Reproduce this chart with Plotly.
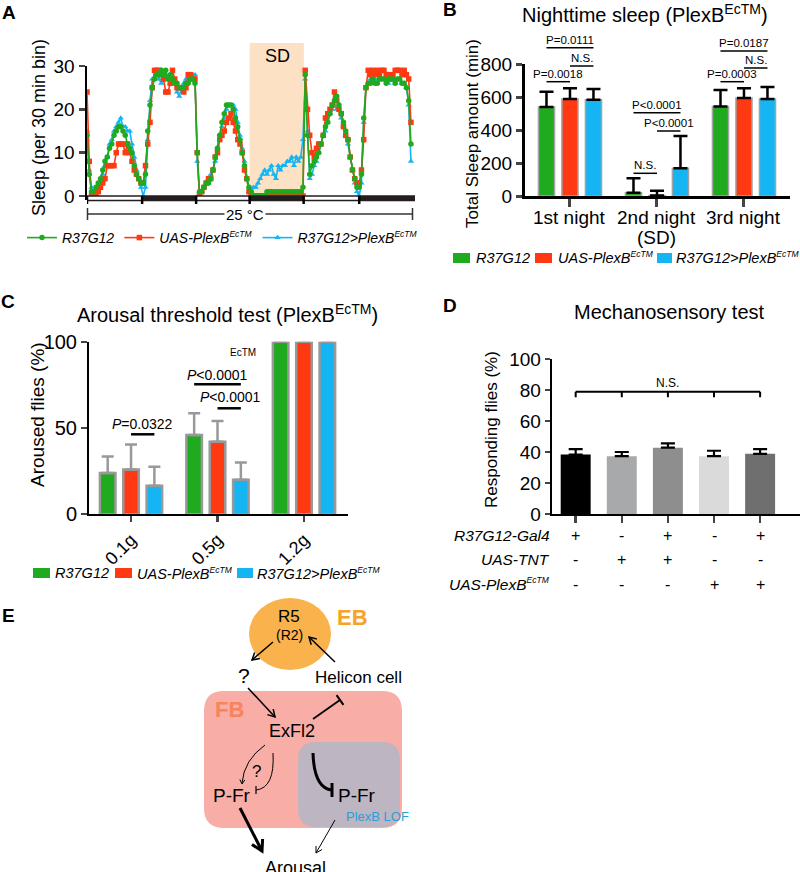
import math
import plotly.graph_objects as go

W, H = 800, 872
FONT = "Liberation Sans, Arial, Helvetica, sans-serif"

# ---------------- data ----------------
bins = list(range(145))  # 30-min bins over 3 days
sleep_r37g12 = [14, 5, 1, 1, 2, 3, 4, 6, 8, 9, 11, 12, 14, 15, 16, 16, 15, 14, 12, 11, 10, 7, 5, 4,
                3, 3, 5, 15, 21, 25, 27, 28, 28, 29, 28, 29, 27, 28, 27, 26, 26, 25, 25, 25, 26, 26, 27, 27,
                26, 10, 1, 1, 2, 3, 3, 4, 6, 9, 11, 14, 17, 19, 21, 21, 21, 20, 18, 16, 13, 10, 7, 4,
                2, 1, 0, 0, 0, 0, 0, 0, 1, 1, 1, 1, 1, 1, 1, 1, 1, 1, 1, 1, 1, 1, 1, 1,
                2, 28, 14, 5, 7, 8, 9, 10, 12, 14, 16, 17, 19, 21, 22, 23, 21, 19, 17, 15, 13, 9, 6, 4,
                2, 2, 5, 18, 25, 26, 26, 27, 26, 26, 27, 27, 27, 26, 27, 27, 27, 26, 27, 27, 26, 26, 25, 22, 12]
sleep_uas = [24, 8, 0, 0, 0, 1, 2, 3, 4, 7, 7, 7, 7, 10, 12, 12, 12, 10, 12, 10, 8, 6, 5, 4,
             3, 3, 7, 12, 17, 25, 29, 29, 29, 28, 27, 24, 24, 26, 29, 27, 25, 25, 25, 24, 25, 28, 28, 27,
             27, 10, 0, 1, 2, 3, 4, 4, 6, 9, 10, 13, 14, 15, 17, 18, 19, 17, 15, 13, 12, 10, 6, 4,
             1, 0, 0, 0, 0, 0, 0, 0, 0, 0, 0, 0, 0, 0, 0, 0, 0, 0, 0, 0, 0, 0, 0, 0,
             0, 29, 20, 14, 10, 9, 11, 12, 12, 14, 18, 19, 20, 21, 24, 22, 20, 19, 16, 14, 13, 9, 6, 4,
             3, 3, 6, 13, 25, 29, 28, 29, 28, 29, 28, 29, 29, 28, 28, 27, 28, 29, 29, 29, 28, 29, 28, 27, 17]
sleep_cross = [15, 6, 2, 0, 1, 2, 3, 5, 7, 9, 12, 13, 15, 16, 17, 18, 16, 16, 15, 15, 12, 9, 6, 4,
               2, 0, 2, 13, 22, 27, 27, 28, 27, 26, 27, 28, 27, 26, 27, 26, 24, 23, 25, 26, 27, 27, 28, 28,
               28, 8, 1, 1, 2, 3, 4, 5, 6, 8, 11, 13, 16, 18, 20, 21, 21, 21, 20, 17, 14, 11, 8, 4,
               1, 1, 2, 2, 3, 4, 5, 6, 5, 6, 7, 5, 4, 7, 6, 7, 7, 8, 8, 9, 7, 9, 8, 9,
               13, 27, 15, 4, 5, 7, 8, 10, 12, 14, 15, 17, 19, 20, 21, 20, 20, 18, 16, 14, 12, 9, 6, 3,
               1, 0, 3, 17, 25, 26, 27, 27, 27, 26, 27, 27, 27, 27, 26, 27, 27, 26, 27, 27, 26, 26, 25, 21, 8]
phase_bounds = [0, 24.5, 48.5, 72.3, 96.3, 121, 145.8]   # light/dark transitions (bins)
sd_window = [72.3, 96.4]

nights = ["1st night", "2nd night", "3rd night"]
night_sub = ["", "(SD)", ""]
night_r37g12 = [540, 20, 542]
night_r37g12_err = [92, 87, 100]
night_uas = [588, 3, 594]
night_uas_err = [65, 29, 59]
night_cross = [583, 168, 588]
night_cross_err = [65, 196, 72]

weights = ["0.1g", "0.5g", "1.2g"]
arousal_r37g12 = [24, 46, 100]
arousal_r37g12_err = [9.5, 12.5, 0]
arousal_uas = [26, 42, 100]
arousal_uas_err = [14.5, 12, 0]
arousal_cross = [16.5, 20, 100]
arousal_cross_err = [11, 10, 0]

mech_values = [38.5, 37.5, 43, 37.5, 39]
mech_err = [3.5, 2.7, 2.8, 3.5, 3]
mech_colors = ["#000000", "#A8A9AB", "#8E8E8E", "#DADADA", "#6F6F6F"]
SUP = "<sup><span style='font-size:8.5px'>EcTM</span></sup>"
genotype_rows = ["R37G12-Gal4", "UAS-TNT", "UAS-PlexB" + SUP]
genotype_signs = [["+", "-", "+", "-", "+"],
                  ["-", "+", "+", "-", "-"],
                  ["-", "-", "-", "+", "+"]]

names = ["<i>R37G12</i>", "<i>UAS-PlexB" + SUP + "</i>", "<i>R37G12&gt;PlexB" + SUP + "</i>"]
GREEN, RED, BLUE = "#20AA20", "#FF3A12", "#14B5F2"

# ---------------- helpers ----------------
def X(px): return px / W
def Y(py): return 1 - py / H

shapes, annos = [], []

def pline(x0, y0, x1, y1, w=1.5, color="black"):
    shapes.append(dict(type="line", xref="paper", yref="paper", x0=X(x0), y0=Y(y0), x1=X(x1), y1=Y(y1),
                       line=dict(color=color, width=w)))

def ptext(x, y, text, size, color="black", bold=False, xanchor="center", angle=0, bg=None):
    if bold:
        text = f"<b>{text}</b>"
    d = dict(xref="paper", yref="paper", x=X(x), y=Y(y), text=text, showarrow=False, xanchor=xanchor,
             yanchor="middle", textangle=angle, font=dict(family=FONT, size=size, color=color))
    if bg:
        d["bgcolor"] = bg
    annos.append(d)

def P(x, y):
    return f"{X(x):.5f},{Y(y):.5f}"

def ppath(d, color="black", w=1.5, fill=None, layer="above"):
    shapes.append(dict(type="path", xref="paper", yref="paper", path=d, layer=layer,
                       line=dict(color=color, width=w),
                       fillcolor=fill if fill else "rgba(0,0,0,0)"))

def prect(x0, y0, x1, y1, fill, lw=0, lc="rgba(0,0,0,0)"):
    shapes.append(dict(type="rect", xref="paper", yref="paper", x0=X(x0), x1=X(x1), y0=Y(y1), y1=Y(y0),
                       fillcolor=fill, line=dict(width=lw, color=lc)))

def vhead(tx, ty, fx, fy, size=7, w=1.5, ang=30):
    dx, dy = tx - fx, ty - fy
    L = math.hypot(dx, dy)
    ux, uy = dx / L, dy / L
    pts = []
    for s in (1, -1):
        a = math.radians(ang * s)
        cx = -ux * math.cos(a) + uy * math.sin(a)
        cy = -ux * math.sin(a) - uy * math.cos(a)
        pts.append((tx + size * cx, ty + size * cy))
    ppath(f"M{P(*pts[0])} L{P(tx, ty)} L{P(*pts[1])}", w=w)

def tbar(tx, ty, fx, fy, half=6, w=2):
    dx, dy = tx - fx, ty - fy
    L = math.hypot(dx, dy)
    ux, uy = dx / L, dy / L
    pline(tx - uy * half, ty + ux * half, tx + uy * half, ty - ux * half, w=w)

def rrect(x0, y0, x1, y1, r, fill):
    d = (f"M{P(x0 + r, y0)} L{P(x1 - r, y0)} Q{P(x1, y0)} {P(x1, y0 + r)} L{P(x1, y1 - r)} "
         f"Q{P(x1, y1)} {P(x1 - r, y1)} L{P(x0 + r, y1)} Q{P(x0, y1)} {P(x0, y1 - r)} "
         f"L{P(x0, y0 + r)} Q{P(x0, y0)} {P(x0 + r, y0)} Z")
    shapes.append(dict(type="path", xref="paper", yref="paper", path=d, layer="below",
                       line=dict(width=0), fillcolor=fill))

def swatch_legend(items, yc):
    # items: (square x0, square x1, text x, color, label)
    for sx0, sx1, tx, col, lab in items:
        prect(sx0, yc - 5, sx1, yc + 5, col)
        ptext(tx, yc, lab, 14.5, xanchor="left")

fig = go.Figure()

# ---------------- Panel A ----------------
for ys, col, sym, nm in [(sleep_cross, BLUE, "triangle-up", names[2]),
                         (sleep_uas, RED, "square", names[1]),
                         (sleep_r37g12, GREEN, "circle", names[0])]:
    fig.add_trace(go.Scatter(x=bins, y=ys, mode="lines+markers", name=nm,
                             line=dict(color=col, width=1.6),
                             marker=dict(symbol=sym, size=5.5, color=col),
                             xaxis="x", yaxis="y", legend="legend"))

shapes.append(dict(type="rect", xref="x", yref="paper", x0=sd_window[0], x1=sd_window[1],
                   y0=Y(196), y1=Y(43), fillcolor="#FCE1C4", line=dict(width=0), layer="below"))
for k in range(len(phase_bounds) - 1):
    light = (k % 2 == 0)
    shapes.append(dict(type="rect", xref="x", yref="paper", x0=phase_bounds[k], x1=phase_bounds[k + 1],
                       y0=Y(200.5), y1=Y(196), layer="above",
                       fillcolor="white" if light else "#231F20",
                       line=dict(color="#231F20", width=1.5)))
for b in phase_bounds[:-1]:
    shapes.append(dict(type="line", xref="x", yref="paper", x0=b, x1=b, y0=Y(196), y1=Y(204),
                       line=dict(color="black", width=2.5)))
pline(87, 214, 413, 214, w=1.5, color="#333333")
pline(87.5, 208, 87.5, 220, w=1.5, color="#333333")
pline(412.5, 208, 412.5, 220, w=1.5, color="#333333")
ptext(245, 214, "25 °C", 15, bg="white")
ptext(277, 56, "SD", 18)
ptext(39, 128, "Sleep (per 30 min bin)", 18, angle=-90)
ptext(9, 12, "A", 19, bold=True)

# ---------------- Panel B ----------------
offs = [-0.27, 0, 0.27]
for vals, errs, col, nm, o in [(night_r37g12, night_r37g12_err, GREEN, names[0], offs[0]),
                               (night_uas, night_uas_err, RED, names[1], offs[1]),
                               (night_cross, night_cross_err, BLUE, names[2], offs[2])]:
    fig.add_trace(go.Bar(x=[i + o for i in range(len(nights))], y=vals, width=0.185, name=nm,
                         marker=dict(color=col, line=dict(color="#A3A3A3", width=1.5)),
                         error_y=dict(type="data", array=errs, arrayminus=[0] * len(errs), symmetric=False,
                                      color="black", thickness=2.5, width=7),
                         xaxis="x2", yaxis="y2", showlegend=False))
for i, (t, s) in enumerate(zip(nights, night_sub)):
    annos.append(dict(xref="x2", yref="paper", x=i, y=Y(217), text=t, showarrow=False, xanchor="center",
                      yanchor="middle", font=dict(family=FONT, size=19, color="black")))
    if s:
        annos.append(dict(xref="x2", yref="paper", x=i, y=Y(238), text=s, showarrow=False, xanchor="center",
                          yanchor="middle", font=dict(family=FONT, size=19, color="black")))

def bracket(xref, xa, xb, py, text, size, gap=8, w=1.5):
    shapes.append(dict(type="line", xref=xref, yref="paper", x0=xa, x1=xb, y0=Y(py), y1=Y(py),
                       line=dict(color="black", width=w)))
    annos.append(dict(xref=xref, yref="paper", x=(xa + xb) / 2, y=Y(py - gap), text=text, showarrow=False,
                      xanchor="center", yanchor="middle", font=dict(family=FONT, size=size, color="black")))

b_pairs = [(0 - 0.27, 0, 81.7, "P=0.0018"), (0, 0.27, 66, "N.S."), (-0.27, 0.27, 47.7, "P=0.0111"),
           (0.73, 1, 173.3, "N.S."), (1, 1.27, 131, "P&lt;0.0001"), (0.73, 1.27, 112.7, "P&lt;0.0001"),
           (1.73, 2, 81.7, "P=0.0003"), (2, 2.27, 68, "N.S."), (1.73, 2.27, 51, "P=0.0187")]
for xa, xb, py, t in b_pairs:
    bracket("x2", xa, xb, py, t, 11.5)
ptext(645, 14, "Nighttime sleep (PlexB<sup>EcTM</sup>)", 20)
ptext(472, 134, "Total Sleep amount (min)", 17, angle=-90)
ptext(450, 9, "B", 19, bold=True)
swatch_legend([(453, 470, 474, GREEN, names[0]), (535, 552, 556, RED, names[1]),
               (657, 672, 674, BLUE, names[2])], 258)

# ---------------- Panel C ----------------
for vals, errs, col, nm, o in [(arousal_r37g12, arousal_r37g12_err, GREEN, names[0], offs[0]),
                               (arousal_uas, arousal_uas_err, RED, names[1], offs[1]),
                               (arousal_cross, arousal_cross_err, BLUE, names[2], offs[2])]:
    fig.add_trace(go.Bar(x=[i + o for i in range(len(weights))], y=vals, width=0.18, name=nm,
                         marker=dict(color=col, line=dict(color="#999999", width=2.5)),
                         error_y=dict(type="data", array=errs, arrayminus=[0] * len(errs), symmetric=False,
                                      color="#999999", thickness=2.5, width=6),
                         xaxis="x3", yaxis="y3", showlegend=False))
bracket("x3", 0, 0.27, 434.3, "<i>P</i>=0.0322", 14, gap=10, w=2.5)
bracket("x3", 0.73, 1.27, 384.3, "<i>P</i>&lt;0.0001", 14, gap=9, w=2.5)
bracket("x3", 1, 1.27, 408.3, "<i>P</i>&lt;0.0001", 14, gap=11, w=2.5)
annos[-1]["x"] = 1.15
ptext(243, 352, "EcTM", 10)
ptext(228, 313, "Arousal threshold test (PlexB<sup>EcTM</sup>)", 20)
ptext(37, 415, "Aroused flies (%)", 19, angle=-90)
ptext(8, 301, "C", 19, bold=True)
swatch_legend([(33, 50, 53, GREEN, names[0]), (115, 132, 135, RED, names[1]),
               (237, 253, 255, BLUE, names[2])], 573)

# ---------------- Panel D ----------------
fig.add_trace(go.Bar(x=list(range(len(mech_values))), y=mech_values, width=0.65, showlegend=False,
                     marker=dict(color=mech_colors, line=dict(width=0)),
                     error_y=dict(type="data", array=mech_err, arrayminus=[0] * len(mech_err), symmetric=False,
                                  color="black", thickness=2.2, width=7),
                     xaxis="x4", yaxis="y4"))
shapes.append(dict(type="line", xref="x4", yref="y4", x0=0, x1=len(mech_values) - 1, y0=79, y1=79,
                   line=dict(color="black", width=2)))
for i in range(len(mech_values)):
    shapes.append(dict(type="line", xref="x4", yref="y4", x0=i, x1=i, y0=79, y1=75.5,
                       line=dict(color="black", width=2)))
annos.append(dict(xref="x4", yref="y4", x=(len(mech_values) - 1) / 2, y=84.5, text="N.S.", showarrow=False,
                  font=dict(family=FONT, size=12, color="black")))
row_y = [535, 559, 584]
for r, lab in enumerate(genotype_rows):
    ptext(552, row_y[r], f"<i>{lab}</i>", 15.5, xanchor="right")
    for i, s in enumerate(genotype_signs[r]):
        annos.append(dict(xref="x4", yref="paper", x=i, y=Y(row_y[r]), text=s, showarrow=False,
                          xanchor="center", yanchor="middle", font=dict(family=FONT, size=16, color="black")))
ptext(669, 312, "Mechanosensory test", 20)
ptext(491, 430, "Responding flies (%)", 17, angle=-90)
ptext(450, 305, "D", 19, bold=True)

# ---------------- Panel E (schematic) ----------------
ptext(8, 615, "E", 19, bold=True)
shapes.append(dict(type="circle", xref="paper", yref="paper", x0=X(249), x1=X(331), y0=Y(670), y1=Y(598),
                   fillcolor="#F9B24C", line=dict(width=0), layer="below"))
rrect(204, 691, 402, 828, 20, "#F8ADA6")
rrect(298, 742, 400, 827, 18, "#BDB5C1")
ptext(289, 616, "R5", 17)
ptext(289, 635, "(R2)", 14)
ptext(352, 617, "EB", 22, color="#F7A32A", bold=True)
ptext(244, 675, "?", 21)
ptext(358, 677, "Helicon cell", 17)
ptext(229, 709, "FB", 22, color="#F7835F", bold=True)
ptext(292, 731, "ExFl2", 18)
ptext(232, 795, "P-Fr", 19)
ptext(357, 795, "P-Fr", 19)
ptext(377, 816, "PlexB LOF", 13, color="#2A9FD8")
ptext(256, 771, "?", 17)
ptext(295, 868, "Arousal", 18)
pline(273, 642, 252, 660); vhead(252, 660, 273, 642, size=8)
pline(335, 662, 309, 637); vhead(309, 637, 335, 662, size=8)
pline(248, 688, 275, 717); vhead(275, 717, 248, 688, size=8)
pline(313, 719, 340, 700, w=1.8); tbar(340, 700, 313, 719, half=6, w=2)
ppath(f"M{P(265, 745)} Q{P(244, 760)} {P(242, 783)}", w=1)
vhead(242, 784, 243, 772, size=5, w=1)
ppath(f"M{P(273, 753)} Q{P(275, 788)} {P(256, 790)}", w=1)
tbar(256, 790, 262, 790, half=4, w=1.2)
ppath(f"M{P(313, 753)} Q{P(314, 787)} {P(331, 790)}", w=3)
tbar(332, 790, 326, 790, half=7, w=3)
pline(240, 808, 262, 851, w=3); vhead(262, 851, 240, 808, size=12, w=3)
pline(335, 820, 316, 853, w=1); vhead(316, 853, 335, 820, size=7, w=1)

# ---------------- layout ----------------
tick_font = dict(family=FONT, size=19, color="black")
fig.update_layout(
    width=W, height=H, margin=dict(l=0, r=0, t=0, b=0, pad=0, autoexpand=False),
    paper_bgcolor="white", plot_bgcolor="rgba(0,0,0,0)",
    barmode="overlay", font=dict(family=FONT, color="black"),
    shapes=shapes, annotations=annos,
    legend=dict(x=X(22), y=Y(238), traceorder="reversed", orientation="h", xanchor="left", yanchor="middle",
                bgcolor="rgba(0,0,0,0)", font=dict(family=FONT, size=14, color="black"), itemwidth=30),
    xaxis=dict(domain=[X(87), X(415)], range=[0, 145.8], anchor="y", showline=False, showticklabels=False,
               ticks="", showgrid=False, zeroline=False),
    yaxis=dict(domain=[Y(200), Y(66)], range=[-0.92, 30], anchor="x", tickvals=[0, 10, 20, 30],
               ticks="outside", ticklen=6, tickwidth=2.5, showline=True, linewidth=2.5, linecolor="black",
               showgrid=False, zeroline=False, tickfont=tick_font),
    xaxis2=dict(domain=[X(525), X(790)], range=[-0.517, 2.529], anchor="y2", tickvals=[0, 1, 2],
                showticklabels=False, ticks="outside", ticklen=8, tickwidth=3, showline=True, linewidth=3,
                linecolor="black", showgrid=False, zeroline=False),
    yaxis2=dict(domain=[Y(196), Y(64)], range=[0, 800], anchor="x2", tickvals=[0, 200, 400, 600, 800],
                ticks="outside", ticklen=6, tickwidth=3, showline=True, linewidth=3, linecolor="black",
                showgrid=False, zeroline=False, tickfont=tick_font),
    xaxis3=dict(domain=[X(89), X(348)], range=[-0.486, 2.509], anchor="y3", tickvals=[0, 1, 2], ticktext=weights,
                tickangle=-45, ticks="outside", ticklen=6, tickwidth=2.5, showline=True, linewidth=2,
                linecolor="black", showgrid=False, zeroline=False, tickfont=dict(family=FONT, size=18, color="black")),
    yaxis3=dict(domain=[Y(514.3), Y(341.7)], range=[0, 100], anchor="x3", tickvals=[0, 50, 100],
                ticks="outside", ticklen=6, tickwidth=2, showline=True, linewidth=2, linecolor="black",
                showgrid=False, zeroline=False, tickfont=dict(family=FONT, size=20, color="black")),
    xaxis4=dict(domain=[X(551.7), X(800)], range=[-0.52, 4.865], anchor="y4", tickvals=[0, 1, 2, 3, 4],
                showticklabels=False, ticks="outside", ticklen=7, tickwidth=2.5, showline=True, linewidth=2,
                linecolor="black", showgrid=False, zeroline=False),
    yaxis4=dict(domain=[Y(514.3), Y(359.3)], range=[0, 100], anchor="x4", tickvals=[0, 20, 40, 60, 80, 100],
                ticks="outside", ticklen=5, tickwidth=2, showline=True, linewidth=2, linecolor="black",
                showgrid=False, zeroline=False, tickfont=tick_font),
)

fig.write_html("out.html", config={"displayModeBar": False, "staticPlot": True},
               post_script="document.body.style.margin='0px';")
